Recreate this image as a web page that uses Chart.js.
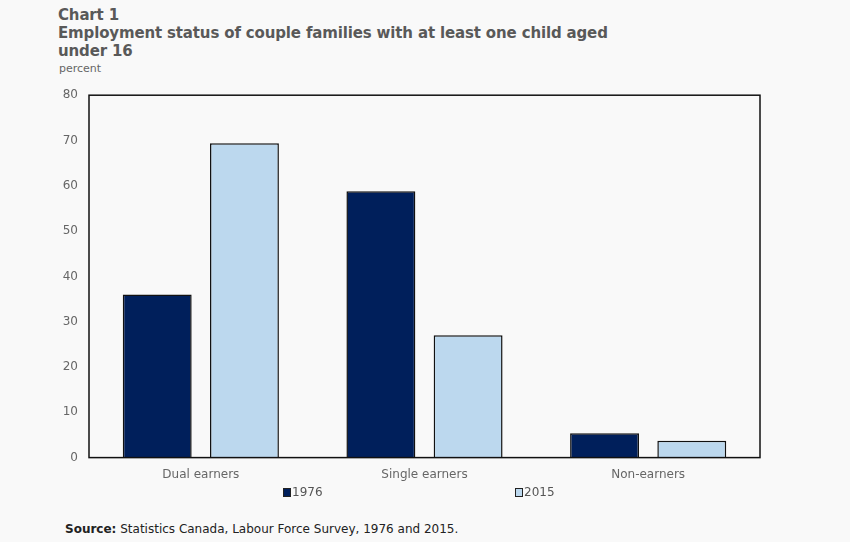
<!DOCTYPE html>
<html>
<head>
<meta charset="utf-8">
<script src="https://cdn.jsdelivr.net/npm/chart.js@4"></script>
<style>
  html, body { margin: 0; padding: 0; background: #f9f9f9; }
  body { width: 850px; height: 542px; position: relative; overflow: hidden; font-family: "DejaVu Sans", Verdana, sans-serif; color: #595959; }
  #head { position: absolute; left: 58px; top: 6px; font-weight: bold; font-size: 15px; line-height: 18px; letter-spacing: -0.15px; }
  #unit { position: absolute; left: 59px; top: 62px; font-size: 11px; color: #666; }
  #wrap { position: absolute; left: 0; top: 77px; width: 850px; height: 415px; }
  #legend { position: absolute; top: 484px; left: 0; width: 850px; font-size: 12px; color: #555; }
  #legend span.item { position: absolute; white-space: nowrap; line-height: 16px; }
  #legend i { display: inline-block; width: 6px; height: 7px; border: 1px solid #222; margin-right: 1px; vertical-align: -1px; }
  #source { position: absolute; left: 65px; top: 522px; font-size: 12px; color: #222; }
</style>
</head>
<body>
<div id="head">Chart 1<br>Employment status of couple families with at least one child aged<br>under 16</div>
<div id="unit">percent</div>
<div id="wrap"><canvas id="myChart"></canvas></div>
<div id="legend"></div>
<div id="source"><b>Source:</b> Statistics Canada, Labour Force Survey, 1976 and 2015.</div>
<script>
// categories and series
const categories = ['Dual earners', 'Single earners', 'Non-earners'];
const years = ['1976', '2015'];
const values1976 = [36.0, 58.8, 5.4];
const values2015 = [69.4, 27.0, 3.7];
const yTicks = [0, 10, 20, 30, 40, 50, 60, 70, 80];

// box round the plot area
const frame = {
  id: 'frame',
  afterDraw(chart) {
    const a = chart.chartArea, c = chart.ctx;
    c.save();
    c.strokeStyle = '#111';
    c.lineWidth = 1.5;
    c.strokeRect(a.left, a.top, a.right - a.left, a.bottom - a.top);
    c.restore();
  }
};

var ctx = document.getElementById('myChart');
var chart = new Chart(ctx, {
  type: 'bar',
  data: {
    labels: categories,
    datasets: [{
      label: years[0],
      data: values1976,
      backgroundColor: '#001f5b',
      borderColor: '#111',
      borderWidth: 1.5
    }, {
      label: years[1],
      data: values2015,
      backgroundColor: '#bcd8ee',
      borderColor: '#111',
      borderWidth: 1.5
    }]
  },
  options: {
    responsive: true,
    maintainAspectRatio: false,
    animation: false,
    layout: { padding: { top: 10, right: 90, bottom: 0, left: 0 } },
    datasets: { bar: { categoryPercentage: 0.78, barPercentage: 0.79 } },
    plugins: {
      legend: { display: false },
      tooltip: { enabled: false }
    },
    scales: {
      x: {
        grid: { display: false, drawTicks: false },
        border: { display: false },
        ticks: { color: '#666', padding: 10, font: { family: 'DejaVu Sans', size: 12 } }
      },
      y: {
        min: 0,
        max: 80,
        afterFit(s) { s.width = 89; },
        afterBuildTicks(s) { s.ticks = yTicks.map(v => ({ value: v })); },
        grid: { display: false, drawTicks: false },
        border: { display: false },
        ticks: { color: '#666', padding: 11, font: { family: 'DejaVu Sans', size: 12 } }
      }
    }
  },
  plugins: [frame]
});

// legend spread wide under the chart, as in the original
const legendX = [283, 515];
const legend = document.getElementById('legend');
chart.data.datasets.forEach((ds, i) => {
  const item = document.createElement('span');
  item.className = 'item';
  item.style.left = legendX[i] + 'px';
  item.innerHTML = '<i style="background:' + ds.backgroundColor + '"></i>' + ds.label;
  legend.appendChild(item);
});
</script>
</body>
</html>
